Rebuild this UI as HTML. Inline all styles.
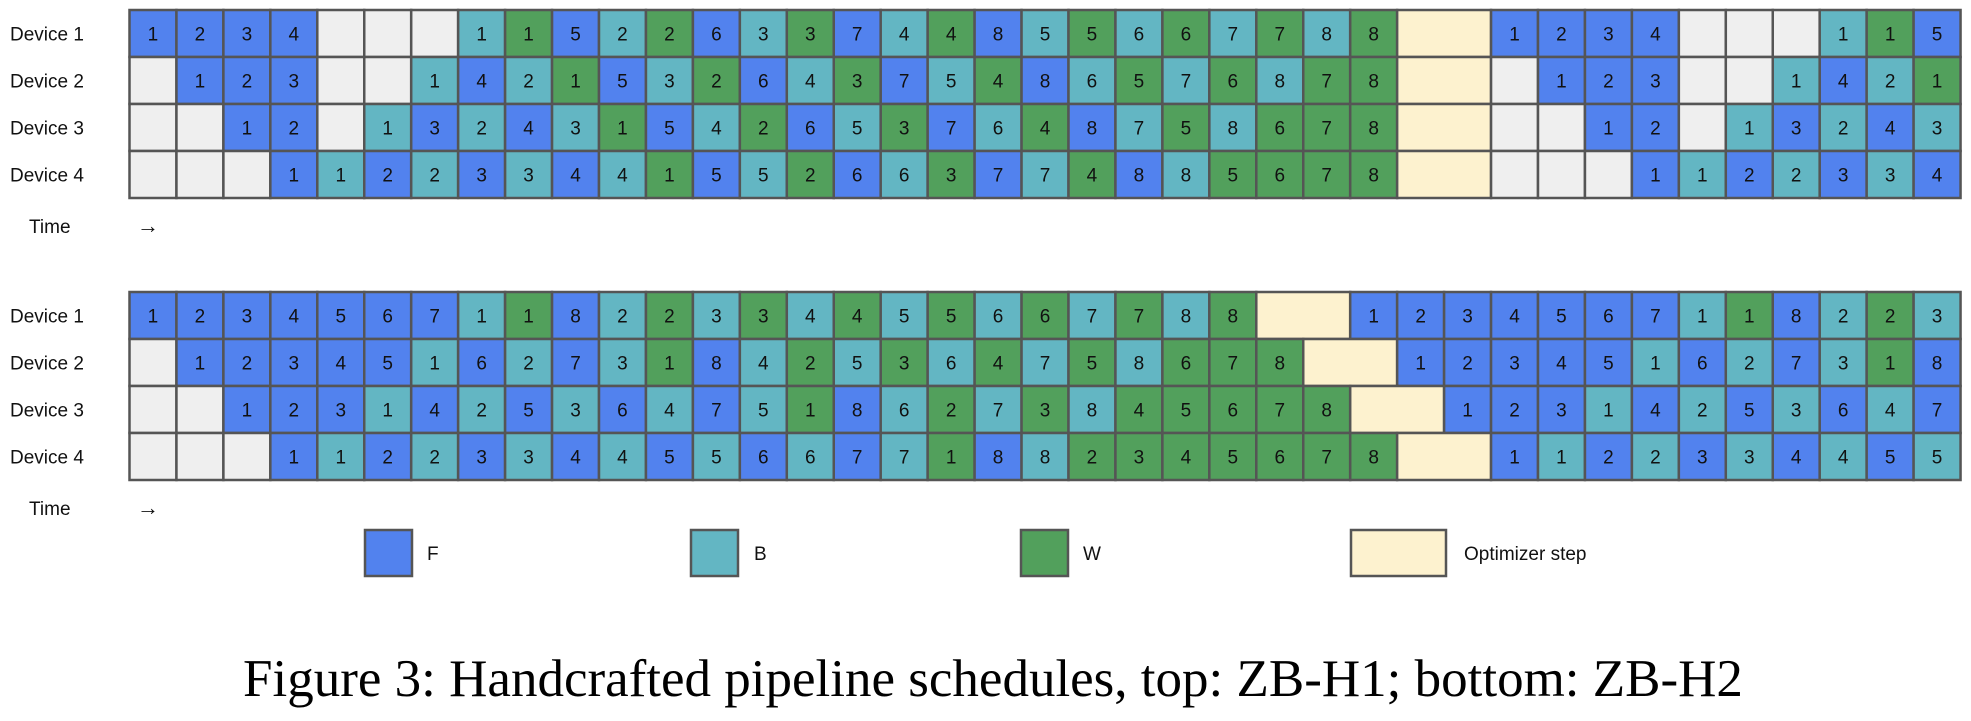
<!DOCTYPE html>
<html><head><meta charset="utf-8"><style>
body{margin:0;background:#fff;width:1971px;height:721px;overflow:hidden}
svg{display:block}
</style></head><body>
<svg id="s" width="1971" height="721" xmlns="http://www.w3.org/2000/svg" font-family="Liberation Sans, sans-serif">
</svg>
<script>
(function(){
var C={F:'#5282ee',B:'#63b6c3',W:'#52a05c',_:'#efefef',O:'#fdf2cf'};
var T1=[
"1F 2F 3F 4F _ _ _ 1B 1W 5F 2B 2W 6F 3B 3W 7F 4B 4W 8F 5B 5W 6B 6W 7B 7W 8B 8W O 1F 2F 3F 4F _ _ _ 1B 1W 5F",
"_ 1F 2F 3F _ _ 1B 4F 2B 1W 5F 3B 2W 6F 4B 3W 7F 5B 4W 8F 6B 5W 7B 6W 8B 7W 8W O _ 1F 2F 3F _ _ 1B 4F 2B 1W",
"_ _ 1F 2F _ 1B 3F 2B 4F 3B 1W 5F 4B 2W 6F 5B 3W 7F 6B 4W 8F 7B 5W 8B 6W 7W 8W O _ _ 1F 2F _ 1B 3F 2B 4F 3B",
"_ _ _ 1F 1B 2F 2B 3F 3B 4F 4B 1W 5F 5B 2W 6F 6B 3W 7F 7B 4W 8F 8B 5W 6W 7W 8W O _ _ _ 1F 1B 2F 2B 3F 3B 4F"];
var T2=[
"1F 2F 3F 4F 5F 6F 7F 1B 1W 8F 2B 2W 3B 3W 4B 4W 5B 5W 6B 6W 7B 7W 8B 8W O 1F 2F 3F 4F 5F 6F 7F 1B 1W 8F 2B 2W 3B",
"_ 1F 2F 3F 4F 5F 1B 6F 2B 7F 3B 1W 8F 4B 2W 5B 3W 6B 4W 7B 5W 8B 6W 7W 8W O 1F 2F 3F 4F 5F 1B 6F 2B 7F 3B 1W 8F",
"_ _ 1F 2F 3F 1B 4F 2B 5F 3B 6F 4B 7F 5B 1W 8F 6B 2W 7B 3W 8B 4W 5W 6W 7W 8W O 1F 2F 3F 1B 4F 2B 5F 3B 6F 4B 7F",
"_ _ _ 1F 1B 2F 2B 3F 3B 4F 4B 5F 5B 6F 6B 7F 7B 1W 8F 8B 2W 3W 4W 5W 6W 7W 8W O 1F 1B 2F 2B 3F 3B 4F 4B 5F 5B"];
var X0=129.5,CW=46.95,CH=47;
var h='';
function grid(rows,y0){
 rows.forEach(function(r,i){
  var y=y0+i*CH;
  h+='<text x="10" y="'+(y+CH/2+7)+'" font-size="19" fill="#111">Device '+(i+1)+'</text>';
  var c=0;
  r.split(' ').forEach(function(t){
   var w=1,col,lab='';
   if(t==='O'){w=2;col=C.O}else if(t==='_'){col=C._}else{col=C[t[1]];lab=t[0]}
   var x=X0+c*CW;
   h+='<rect x="'+x+'" y="'+y+'" width="'+(CW*w)+'" height="'+CH+'" fill="'+col+'" stroke="#555" stroke-width="2.5"/>';
   if(lab)h+='<text x="'+(x+CW/2)+'" y="'+(y+CH/2+7)+'" font-size="19" text-anchor="middle" fill="#111">'+lab+'</text>';
   c+=w;
  });
 });
 h+='<text x="29" y="'+(y0+4*CH+35)+'" font-size="19" fill="#111">Time</text><text x="137" y="'+(y0+4*CH+35)+'" font-size="22" fill="#111">→</text>';
}
grid(T1,10);grid(T2,292);
[[365,47,C.F,'F',427],[691,47,C.B,'B',754],[1021,47,C.W,'W',1083],[1351,95,C.O,'Optimizer step',1464]].forEach(function(a){
 h+='<rect x="'+a[0]+'" y="530" width="'+a[1]+'" height="46" fill="'+a[2]+'" stroke="#555" stroke-width="2.5"/><text x="'+a[4]+'" y="560" font-size="19" fill="#111">'+a[3]+'</text>';
});
h+='<text x="993" y="696" font-size="53" text-anchor="middle" font-family="Liberation Serif, serif" fill="#000">Figure 3: Handcrafted pipeline schedules, top: ZB-H1; bottom: ZB-H2</text>';
document.getElementById('s').innerHTML=h;
})();
</script>
</body></html>
